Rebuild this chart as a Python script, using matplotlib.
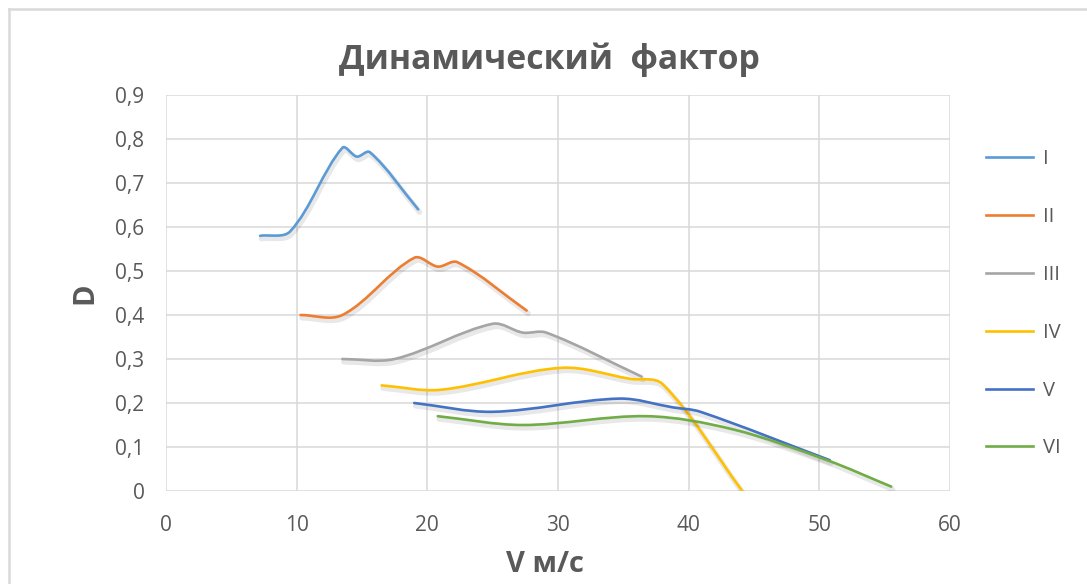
import numpy as np
import matplotlib
matplotlib.use("Agg")
import matplotlib.pyplot as plt
from matplotlib.path import Path
from matplotlib.patches import PathPatch
from matplotlib.lines import Line2D
import matplotlib.patheffects as pe

plt.rcParams['font.family'] = ['Open Sans', 'DejaVu Sans']

# Dynamic factor D versus speed V for each gear
series_names = ["I", "II", "III", "IV", "V", "VI"]
series_colors = ["#5B9BD5", "#ED7D31", "#A5A5A5", "#FFC000", "#4472C4", "#70AD47"]

v_I = [7.2, 9.5, 13.5, 14.6, 15.6, 19.3]
d_I = [0.58, 0.59, 0.78, 0.76, 0.77, 0.64]

v_II = [10.3, 13.5, 19.0, 20.8, 22.3, 27.6]
d_II = [0.40, 0.40, 0.53, 0.51, 0.52, 0.41]

v_III = [13.5, 17.5, 25.0, 27.3, 29.1, 36.4]
d_III = [0.30, 0.30, 0.38, 0.36, 0.36, 0.26]

v_IV = [16.5, 21.0, 30.3, 35.5, 38.0, 44.1]
d_IV = [0.24, 0.23, 0.28, 0.255, 0.243, 0.0]

v_V = [19.0, 25.0, 34.7, 38.8, 40.9, 50.8]
d_V = [0.20, 0.18, 0.21, 0.19, 0.18, 0.07]

v_VI = [20.8, 27.3, 36.8, 43.4, 50.6, 55.5]
d_VI = [0.17, 0.15, 0.17, 0.14, 0.07, 0.01]

x_ticks = [0, 10, 20, 30, 40, 50, 60]
y_ticks = [0, 0.1, 0.2, 0.3, 0.4, 0.5, 0.6, 0.7, 0.8, 0.9]
y_tick_labels = ["0", "0,1", "0,2", "0,3", "0,4", "0,5", "0,6", "0,7", "0,8", "0,9"]

all_v = [v_I, v_II, v_III, v_IV, v_V, v_VI]
all_d = [d_I, d_II, d_III, d_IV, d_V, d_VI]

TEXT = "#595959"
GRID = "#D9D9D9"

# axes extent in pixels, used to smooth curves in screen proportions
AX_W, AX_H = 950 - 166, 491 - 95
X_MAX, Y_MAX = 60.0, 0.9


def smooth_path(xs, ys):
    """Smoothed curve through the points (cardinal spline with chord-length tangents)."""
    sx, sy = AX_W / X_MAX, AX_H / Y_MAX
    p = np.column_stack([np.asarray(xs) * sx, np.asarray(ys) * sy]).astype(float)
    n = len(p)
    d = np.linalg.norm(np.diff(p, axis=0), axis=1)
    tang = np.zeros_like(p)
    for i in range(n):
        if i == 0:
            tang[i] = (p[1] - p[0]) / d[0]
        elif i == n - 1:
            tang[i] = (p[-1] - p[-2]) / d[-1]
        else:
            tang[i] = (p[i + 1] - p[i - 1]) / (d[i - 1] + d[i])
    verts = [p[0]]
    codes = [Path.MOVETO]
    for i in range(n - 1):
        c1 = p[i] + tang[i] * d[i] / 3.0
        c2 = p[i + 1] - tang[i + 1] * d[i] / 3.0
        verts += [c1, c2, p[i + 1]]
        codes += [Path.CURVE4] * 3
    verts = np.array(verts) / np.array([sx, sy])
    return Path(verts, codes)


fig = plt.figure(figsize=(10.87, 5.84), dpi=100)
ax = fig.add_axes([166 / 1087, 1 - 491 / 584, AX_W / 1087, AX_H / 584])

# outer chart frame (left and top edges)
fig.add_artist(Line2D([9 / 1087, 9 / 1087], [0, 1 - 9 / 584], transform=fig.transFigure,
                      color=GRID, lw=1.8))
fig.add_artist(Line2D([9 / 1087, 1], [1 - 9 / 584, 1 - 9 / 584], transform=fig.transFigure,
                      color=GRID, lw=1.8))

ax.set_xlim(0, X_MAX)
ax.set_ylim(0, Y_MAX)
ax.set_xticks(x_ticks)
ax.set_yticks(y_ticks)
ax.set_yticklabels(y_tick_labels)
ax.grid(True, color=GRID, lw=1.1)
ax.set_axisbelow(True)
for s in ax.spines.values():
    s.set_visible(False)
ax.tick_params(length=0, labelsize=15, colors=TEXT)
ax.tick_params(axis='y', pad=15.5)
ax.tick_params(axis='x', pad=17)

shadow = [pe.SimpleLineShadow(offset=(1.0, -2.0), shadow_color='black', alpha=0.09, linewidth=4.0),
          pe.Normal()]

handles = []
for name, color, xs, ys in zip(series_names, series_colors, all_v, all_d):
    patch = PathPatch(smooth_path(xs, ys), fill=False, edgecolor=color, lw=1.9,
                      capstyle='round', joinstyle='round', zorder=3)
    patch.set_path_effects(shadow)
    ax.add_patch(patch)
    handles.append(Line2D([], [], color=color, lw=1.9))

ax.legend(handles, series_names, loc='upper left', bbox_to_anchor=(968 / 1087, 1 - 131 / 584),
          bbox_transform=fig.transFigure, frameon=False, fontsize=14.5, labelcolor=TEXT,
          handlelength=2.35, handletextpad=0.45, labelspacing=1.88)

fig.text(549 / 1087, 1 - 60 / 584, "Динамический  фактор", ha='center', va='center',
         fontsize=24.3, fontweight='bold', color=TEXT)
fig.text(85 / 1087, 1 - 293 / 584, "D", ha='center', va='center', rotation=90,
         fontsize=21, fontweight='bold', color=TEXT)
fig.text(545 / 1087, 1 - 565 / 584, "V м/с", ha='center', va='center',
         fontsize=21, fontweight='bold', color=TEXT)

fig.savefig("out.png", dpi=100, facecolor='white')
